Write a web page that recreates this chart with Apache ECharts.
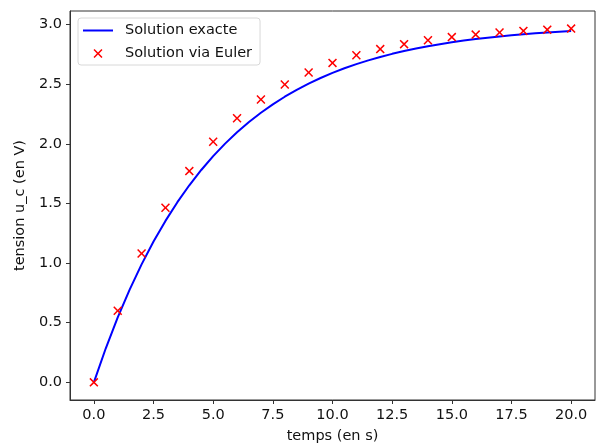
<!DOCTYPE html>
<html>
<head>
<meta charset="utf-8">
<script src="https://cdn.jsdelivr.net/npm/echarts@6/dist/echarts.min.js"></script>
<style>
  html, body { margin: 0; padding: 0; background: #fff; }
  #chart { width: 599px; height: 445px; }
</style>
</head>
<body>
<div id="chart"></div>
<script>
// solution exacte, echantillonnee tous les 0.5 s
var tExact = [0, 0.5, 1, 1.5, 2, 2.5, 3, 3.5, 4, 4.5, 5, 5.5, 6, 6.5, 7, 7.5, 8, 8.5, 9, 9.5,
  10, 10.5, 11, 11.5, 12, 12.5, 13, 13.5, 14, 14.5, 15, 15.5, 16, 16.5, 17, 17.5, 18, 18.5, 19, 19.5, 20];
var exactValues = [0, 0.2855, 0.5438, 0.7776, 0.9890, 1.1804, 1.3536, 1.5102, 1.6520, 1.7803,
  1.8964, 2.0014, 2.0964, 2.1824, 2.2602, 2.3306, 2.3943, 2.4520, 2.5041, 2.5513,
  2.5940, 2.6326, 2.6676, 2.6992, 2.7278, 2.7538, 2.7772, 2.7984, 2.8176, 2.8349,
  2.8506, 2.8649, 2.8777, 2.8894, 2.8999, 2.9094, 2.9180, 2.9258, 2.9329, 2.9393, 2.9451];
// solution via Euler (pas de 1 s)
var tEuler = [0, 1, 2, 3, 4, 5, 6, 7, 8, 9, 10, 11, 12, 13, 14, 15, 16, 17, 18, 19, 20];
var eulerValues = [0, 0.6, 1.08, 1.464, 1.7712, 2.0170, 2.2136, 2.3709, 2.4967, 2.5974,
  2.6779, 2.7423, 2.7938, 2.8351, 2.8681, 2.8945, 2.9156, 2.9325, 2.9460, 2.9568, 2.9654];
var xTicks = [0, 2.5, 5, 7.5, 10, 12.5, 15, 17.5, 20];
var yTicks = [0, 0.5, 1, 1.5, 2, 2.5, 3];

var font = 'DejaVu Sans';
var fontSize = 14.5;
var crossPath = 'path://M0,1.2L1.2,0L5,3.8L8.8,0L10,1.2L6.2,5L10,8.8L8.8,10L5,6.2L1.2,10L0,8.8L3.8,5Z';
var linePath = 'path://M0,0L30,0L30,2L0,2Z';

function pairs(xs, ys) {
  return xs.map(function(x, i) { return [x, ys[i]]; });
}

var chart = echarts.init(document.getElementById('chart'), null, { renderer: 'canvas' });

var axisCommon = {
  type: 'value',
  splitLine: { show: false },
  axisLine: { show: true, onZero: false, lineStyle: { color: '#333', width: 1 } },
  axisTick: { show: true, inside: false, length: 4, lineStyle: { color: '#333' } },
  nameLocation: 'middle',
  nameTextStyle: { fontFamily: font, fontSize: fontSize, color: '#111' }
};

var option = {
  animation: false,
  backgroundColor: '#fff',
  grid: {
    left: 70, top: 11, right: 4, bottom: 45,
    outerBoundsMode: 'none',
    show: true, borderColor: '#333', borderWidth: 1
  },
  legend: {
    orient: 'vertical',
    left: 78,
    top: 18,
    padding: [4, 8, 3, 5],
    itemGap: 6,
    itemWidth: 30,
    itemHeight: 9,
    borderColor: '#d8d8d8',
    borderWidth: 1,
    borderRadius: 3,
    textStyle: { fontFamily: font, fontSize: fontSize, color: '#111', lineHeight: 17, padding: [0, 0, 0, 7] },
    data: [
      { name: 'Solution exacte', icon: linePath },
      { name: 'Solution via Euler', icon: crossPath }
    ]
  },
  xAxis: Object.assign({}, axisCommon, {
    min: -1,
    max: 21,
    name: 'temps (en s)',
    nameGap: 29,
    axisTick: Object.assign({}, axisCommon.axisTick, { customValues: xTicks }),
    axisLabel: {
      customValues: xTicks,
      margin: 8,
      fontFamily: font, fontSize: fontSize, color: '#111',
      formatter: function(v) { return v.toFixed(1); }
    }
  }),
  yAxis: Object.assign({}, axisCommon, {
    min: -0.148,
    max: 3.113,
    name: 'tension u_c (en V)',
    nameGap: 40,
    axisTick: Object.assign({}, axisCommon.axisTick, { customValues: yTicks }),
    axisLabel: {
      customValues: yTicks,
      margin: 8,
      fontFamily: font, fontSize: fontSize, color: '#111',
      formatter: function(v) { return v.toFixed(1); }
    }
  }),
  series: [{
    name: 'Solution exacte',
    type: 'line',
    data: pairs(tExact, exactValues),
    symbol: 'none',
    lineStyle: { color: '#0000ff', width: 2 },
    itemStyle: { color: '#0000ff' },
    z: 2
  }, {
    name: 'Solution via Euler',
    type: 'scatter',
    data: pairs(tEuler, eulerValues),
    symbol: crossPath,
    symbolSize: 9,
    itemStyle: { color: '#ff0000', opacity: 1 },
    z: 3
  }]
};

chart.setOption(option);
</script>
</body>
</html>
